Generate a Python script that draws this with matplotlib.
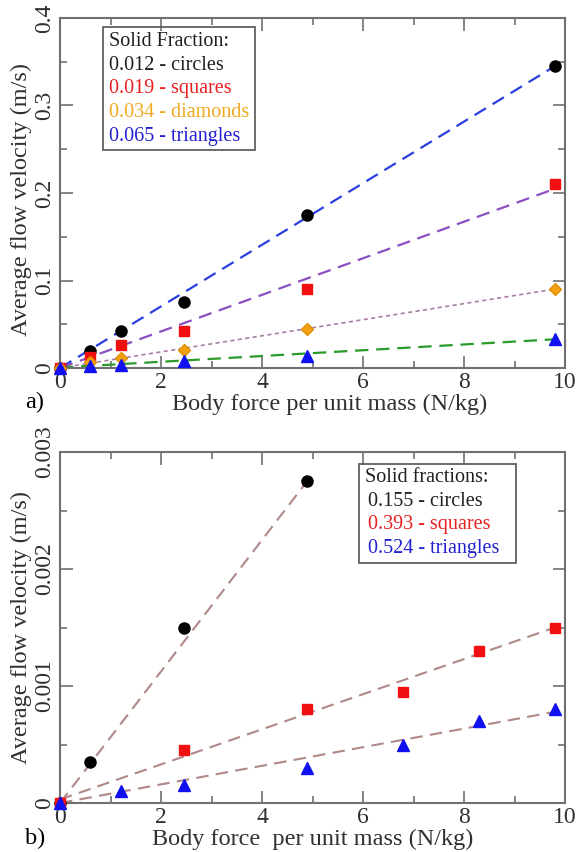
"""Flow velocity vs body force, two panels"""

import numpy as np
import matplotlib.pyplot as plt
from matplotlib.patches import Rectangle
from matplotlib.ticker import MultipleLocator, FuncFormatter

plt.rcParams["font.family"] = ["Liberation Serif", "DejaVu Serif"]

# panel a) data
force_a = [0, 0.6, 1.2, 2.45, 4.9, 9.8]
circles_a = [0, 0.020, 0.042, 0.076, 0.175, 0.345]
squares_a = [0, 0.013, 0.026, 0.042, 0.090, 0.210]
diamonds_a = [0, 0.007, 0.011, 0.021, 0.045, 0.090]
triangles_a = [0, 0.002, 0.003, 0.008, 0.014, 0.033]
# fitted lines (slope, intercept)
fit_a = {"circles": (0.0352, 0.0), "squares": (0.0209, 0.0),
         "diamonds": (0.0092, 0.0), "triangles": (0.0033, 0.0005)}

# panel b) data
force_b_circ = [0, 0.6, 2.45, 4.9]
circles_b = [0, 0.00035, 0.0015, 0.00275]
force_b_sq = [0, 2.45, 4.9, 6.8, 8.3, 9.8]
squares_b = [0, 0.00045, 0.0008, 0.00095, 0.0013, 0.0015]
force_b_tri = [0, 1.2, 2.45, 4.9, 6.8, 8.3, 9.8]
triangles_b = [0, 0.0001, 0.00015, 0.0003, 0.0005, 0.0007, 0.0008]
fit_b = {"circles": (0.000562, 0.0), "squares": (0.000150, 0.00003),
         "triangles": (0.0000795, 0.0)}

W, H = 587, 852
fig = plt.figure(figsize=(W / 100, H / 100), dpi=100)

SPINE = "#707070"
TXT = "#303030"


def px_axes(left, top, right, bottom):
    return fig.add_axes([left / W, 1 - bottom / H, (right - left) / W, (bottom - top) / H])


def style(ax, ymax, ymajor, fmt):
    ax.set_xlim(0, 10)
    ax.set_ylim(0, ymax)
    ax.xaxis.set_major_locator(MultipleLocator(2))
    ax.xaxis.set_minor_locator(MultipleLocator(1))
    ax.yaxis.set_major_locator(MultipleLocator(ymajor))
    ax.yaxis.set_minor_locator(MultipleLocator(ymajor / 2))
    ax.tick_params(which="both", direction="in", top=True, right=True,
                   colors=SPINE, labelcolor=TXT, labelsize=17, width=1.2)
    ax.tick_params(which="major", length=9)
    ax.tick_params(which="minor", length=5)
    ax.tick_params(axis="x", pad=3)
    ax.yaxis.set_major_formatter(FuncFormatter(fmt))
    for lab in ax.get_yticklabels():
        lab.set_rotation(90)
        lab.set_va("center")
    for s in ax.spines.values():
        s.set_color(SPINE)
        s.set_linewidth(1.5)


def fit_line(ax, slope, b, xmax, **kw):
    x = np.array([0, xmax])
    ax.plot(x, slope * x + b, **kw)


# ---------- panel a ----------
ax1 = px_axes(60, 18, 565, 368)
fit_line(ax1, *fit_a["circles"], 9.8, color="#2a3fe0", ls=(0, (6, 3.5)), lw=1.6)
fit_line(ax1, *fit_a["squares"], 9.8, color="#8a4fc0", ls=(0, (6, 3.5)), lw=1.6)
fit_line(ax1, *fit_a["diamonds"], 9.8, color="#a880a8", ls=(0, (2.5, 2)), lw=1.2)
fit_line(ax1, *fit_a["triangles"], 9.8, color="#2a9a2a", ls=(0, (6, 3.5)), lw=1.6)
ax1.plot(force_a, circles_a, "o", color="black", ms=8, clip_on=False, zorder=5)
ax1.plot(force_a, squares_a, "s", color="#f01010", ms=7, clip_on=False, zorder=5)
ax1.plot(force_a, diamonds_a, "D", color="#f0a010", ms=6, mec="#e09000", clip_on=False, zorder=5)
ax1.plot(force_a, triangles_a, "^", color="#1010f0", ms=8, clip_on=False, zorder=5)
style(ax1, 0.4, 0.1, lambda v, p: "0" if abs(v) < 1e-9 else f"{v:.1f}")

ax1.add_patch(Rectangle((0.085, 0.623), 0.301, 0.351, transform=ax1.transAxes,
                        fill=False, ec="#606060", lw=1.3, zorder=6))
legend_a = [("Solid Fraction:", "#202020"), ("0.012 - circles", "#202020"),
            ("0.019 - squares", "#e82020"), ("0.034 - diamonds", "#f0a820"),
            ("0.065 - triangles", "#2020d0")]
for i, (t, c) in enumerate(legend_a):
    y = 1 - (42 + 23.5 * i - 18) / 350
    ax1.text(0.098, y, t, color=c, fontsize=14.5, transform=ax1.transAxes,
             va="center", ha="left", zorder=7)

fig.text(330 / W, 1 - 404 / H, "Body force per unit mass (N/kg)", fontsize=17.5,
         color=TXT, ha="center", va="center")
fig.text(21 / W, 1 - 200 / H, "Average flow velocity (m/s)", fontsize=17.5,
         color=TXT, ha="center", va="center", rotation=90)
fig.text(35 / W, 1 - 402 / H, "a)", fontsize=17.5, color="black", ha="center", va="center")

# ---------- panel b ----------
ax2 = px_axes(60, 452, 565, 803)
lc = "#b08888"
fit_line(ax2, *fit_b["circles"], 4.9, color=lc, ls=(0, (6, 3.5)), lw=1.5)
fit_line(ax2, *fit_b["squares"], 9.8, color=lc, ls=(0, (6, 3.5)), lw=1.5)
fit_line(ax2, *fit_b["triangles"], 9.8, color=lc, ls=(0, (6, 3.5)), lw=1.5)
ax2.plot(force_b_circ, circles_b, "o", color="black", ms=8, clip_on=False, zorder=5)
ax2.plot(force_b_sq, squares_b, "s", color="#f01010", ms=7, clip_on=False, zorder=5)
ax2.plot(force_b_tri, triangles_b, "^", color="#1010f0", ms=8, clip_on=False, zorder=5)
style(ax2, 0.003, 0.001, lambda v, p: "0" if abs(v) < 1e-12 else f"{v:.3f}")

ax2.add_patch(Rectangle((0.592, 0.684), 0.311, 0.282, transform=ax2.transAxes,
                        fill=False, ec="#606060", lw=1.3, zorder=6))
legend_b = [("Solid fractions:", "#202020", 365), ("0.155 - circles", "#202020", 368),
            ("0.393 - squares", "#e82020", 368), ("0.524 - triangles", "#2020d0", 368)]
for i, (t, c, xp) in enumerate(legend_b):
    y = 1 - (478 + 23.5 * i - 452) / 351
    ax2.text((xp - 60) / 505, y, t, color=c, fontsize=14.5, transform=ax2.transAxes,
             va="center", ha="left", zorder=7)

fig.text(313 / W, 1 - 839 / H, "Body force  per unit mass (N/kg)", fontsize=17.5,
         color=TXT, ha="center", va="center")
fig.text(21 / W, 1 - 628 / H, "Average flow velocity (m/s)", fontsize=17.5,
         color=TXT, ha="center", va="center", rotation=90)
fig.text(35 / W, 1 - 838 / H, "b)", fontsize=17.5, color="black", ha="center", va="center")

fig.savefig("out.png", dpi=100)
